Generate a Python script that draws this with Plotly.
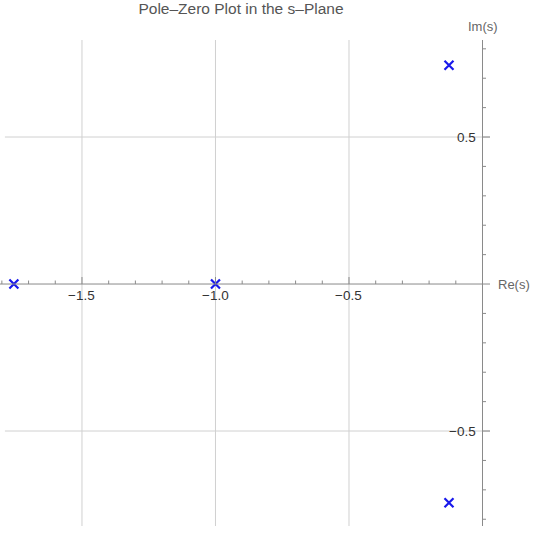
import plotly.graph_objects as go

# Data
pole_re = [-1.755, -1.0, -0.1255, -0.1255]
pole_im = [0.0, 0.0, 0.744, -0.744]

x_major = [-1.5, -1.0, -0.5]
x_major_labels = ["\u22121.5", "\u22121.0", "\u22120.5"]
y_major = [0.5, -0.5]
y_major_labels = ["0.5", "\u22120.5"]
x_minor = [round(-1.8 + 0.1 * i, 2) for i in range(18)]
y_minor = [round(-0.8 + 0.1 * i, 2) for i in range(17)]

title_text = "Pole\u2013Zero Plot in the s\u2013Plane"
x_label = "Re(s)"
y_label = "Im(s)"

AX = "#8a8a8a"
GRID = "#d0d0d0"
FONT = "Liberation Sans, Arial, sans-serif"

fig = go.Figure()
fig.add_trace(go.Scatter(
    x=pole_re, y=pole_im, mode="markers",
    marker=dict(symbol="x-thin", size=9, line=dict(width=2.2, color="rgb(25,25,235)"),
                color="rgb(25,25,235)"),
    showlegend=False, hoverinfo="x+y",
))

shapes = []
# grid lines
for xv in x_major:
    shapes.append(dict(type="line", xref="x", yref="paper", x0=xv, x1=xv, y0=0, y1=1,
                       line=dict(color=GRID, width=1), layer="below"))
for yv in y_major:
    shapes.append(dict(type="line", xref="paper", yref="y", x0=0.01, x1=1, y0=yv, y1=yv,
                       line=dict(color=GRID, width=1), layer="below"))
# axes
shapes.append(dict(type="line", xref="paper", yref="y", x0=0, x1=1, y0=0, y1=0,
                   line=dict(color=AX, width=1)))
shapes.append(dict(type="line", xref="x", yref="paper", x0=0, x1=0, y0=0, y1=1,
                   line=dict(color=AX, width=1)))
# ticks on x-axis (pointing up)
for xv in x_minor:
    L = 7 if any(abs(xv - m) < 1e-9 for m in x_major) else 3.5
    shapes.append(dict(type="line", xref="x", yref="y", x0=xv, x1=xv,
                       ysizemode="pixel", yanchor=0, y0=0, y1=L,
                       line=dict(color=AX, width=1)))
# ticks on y-axis (pointing right)
for yv in y_minor:
    if abs(yv) < 1e-9:
        continue
    L = 8 if any(abs(yv - m) < 1e-9 for m in y_major) else 3.5
    shapes.append(dict(type="line", xref="x", yref="y", y0=yv, y1=yv,
                       xsizemode="pixel", xanchor=0, x0=0, x1=L,
                       line=dict(color=AX, width=1)))

annotations = []
for xv, t in zip(x_major, x_major_labels):
    annotations.append(dict(x=xv, y=0, xref="x", yref="y", text=t, showarrow=False,
                            xanchor="center", yanchor="middle", yshift=-11.5,
                            font=dict(family=FONT, size=13.5, color="#333333")))
for yv, t in zip(y_major, y_major_labels):
    annotations.append(dict(x=0, y=yv, xref="x", yref="y", text=t, showarrow=False,
                            xanchor="right", yanchor="middle", xshift=-4.5,
                            font=dict(family=FONT, size=13.5, color="#333333")))
annotations.append(dict(x=0, y=1, xref="x", yref="paper", text=y_label, showarrow=False,
                        xanchor="center", yanchor="bottom", yshift=4,
                        font=dict(family=FONT, size=13, color="#666666")))
annotations.append(dict(x=1, y=0, xref="paper", yref="y", text=x_label, showarrow=False,
                        xanchor="left", yanchor="middle", xshift=6,
                        font=dict(family=FONT, size=13, color="#666666")))

fig.update_layout(
    width=537, height=538,
    margin=dict(l=0, r=47, t=40, b=12),
    paper_bgcolor="white", plot_bgcolor="white",
    title=dict(text=title_text, x=241 / 537, xanchor="center", y=1 - 9 / 538, yanchor="middle",
               font=dict(family=FONT, size=15.5, color="#555555")),
    xaxis=dict(range=[-1.807, 0.0281], showgrid=False, zeroline=False, showticklabels=False,
               ticks="", showline=False, fixedrange=True),
    yaxis=dict(range=[-0.823, 0.830], showgrid=False, zeroline=False, showticklabels=False,
               ticks="", showline=False, fixedrange=True),
    shapes=shapes,
    annotations=annotations,
)

fig.write_html("out.html",
               config={"displayModeBar": False},
               post_script="document.body.style.margin='0';document.body.style.overflow='hidden';")
